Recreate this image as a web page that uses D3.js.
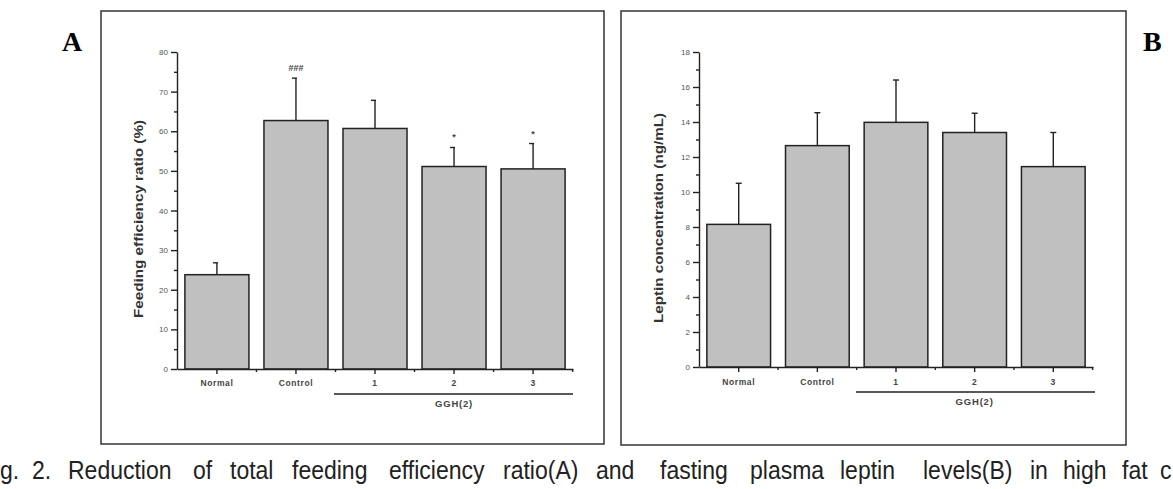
<!DOCTYPE html>
<html>
<head>
<meta charset="utf-8">
<script src="https://cdn.jsdelivr.net/npm/d3@7"></script>
<style>
  body { margin: 0; background: #fff; }
  svg { display: block; font-family: "Liberation Sans", Arial, sans-serif; }
  .axis path, .axis line { stroke: #222; stroke-width: 1.4; }
  .axis text { fill: #555; font-size: 8px; }
</style>
</head>
<body>
<svg id="fig" width="1173" height="489"></svg>
<script>
/* Fig. 2 - feeding efficiency ratio (A) and plasma leptin (B) */
const groups = ['Normal', 'Control', '1', '2', '3']
const feedMean = [23.8, 62.7, 60.7, 51.1, 50.5]
const feedErr = [3.0, 10.7, 7.1, 4.8, 6.4]
const feedSig = ['', '###', '', '*', '*']
const leptinMean = [8.15, 12.65, 13.98, 13.4, 11.45]
const leptinErr = [2.35, 1.88, 2.42, 1.1, 1.95]
const leptinSig = ['', '', '', '', '']
const feedTicks = [0, 10, 20, 30, 40, 50, 60, 70, 80]
const leptinTicks = [0, 2, 4, 6, 8, 10, 12, 14, 16, 18]
const groupName = 'GGH(2)'
// the page edge cuts the caption on both sides, so only the visible part is kept
const captionWords = ['g.', '2.', 'Reduction', 'of', 'total', 'feeding', 'efficiency', 'ratio(A)',
  'and', 'fasting', 'plasma', 'leptin', 'levels(B)', 'in', 'high', 'fat', 'c']

const svg = d3.select('#fig')

const panels = [
  { title: 'A', titleX: 62, box: [101, 11, 604, 444], ax: 177, xEnd: 573, yTop: 52, yBot: 369,
    mean: feedMean, err: feedErr, sig: feedSig, ticks: feedTicks,
    ylabel: 'Feeding efficiency ratio (%)', ylx: 140, lyc: 219, lylen: 198,
    bracket: [334, 573, 394], gy: 407, xly: 386, cap: [4, 1] },
  { title: 'B', titleX: 1143, box: [621, 11, 1126, 445], ax: 699, xEnd: 1093, yTop: 52, yBot: 367,
    mean: leptinMean, err: leptinErr, sig: leptinSig, ticks: leptinTicks,
    ylabel: 'Leptin concentration (ng/mL)', ylx: 660, lyc: 218, lylen: 210,
    bracket: [856, 1095, 392], gy: 405, xly: 385, cap: [3, 3] }
]

panels.forEach(p => {
  const [bx0, by0, bx1, by1] = p.box
  svg.append('rect')
    .attr('x', bx0).attr('y', by0)
    .attr('width', bx1 - bx0).attr('height', by1 - by0)
    .attr('fill', 'none').attr('stroke', '#333').attr('stroke-width', 1.5)

  svg.append('text')
    .attr('x', p.titleX).attr('y', 51)
    .style('font-family', '"Liberation Serif", "Times New Roman", serif')
    .style('font-weight', 'bold').style('font-size', '28px')
    .text(p.title)

  const yMax = p.ticks[p.ticks.length - 1]
  const step = p.ticks[1] - p.ticks[0]
  const y = d3.scaleLinear().domain([0, yMax]).range([p.yBot, p.yTop])
  const x = d3.scaleBand().domain(groups).range([p.ax, p.xEnd])
    .paddingInner(0.19).paddingOuter(0.1)

  // minor y ticks
  const minor = p.ticks.slice(0, -1).map(t => t + step / 2)
  svg.append('g').attr('class', 'axis')
    .attr('transform', `translate(${p.ax},0)`)
    .call(d3.axisLeft(y).tickValues(minor).tickSize(3).tickFormat(''))
    .select('.domain').remove()

  // bars
  svg.append('g').selectAll('rect')
    .data(p.mean)
    .join('rect')
    .attr('x', (d, i) => x(groups[i]))
    .attr('y', d => y(d))
    .attr('width', x.bandwidth())
    .attr('height', d => y(0) - y(d))
    .attr('fill', '#c0c0c0')
    .attr('stroke', '#222')
    .attr('stroke-width', 1.5)

  // error bars
  const eb = svg.append('g').attr('stroke', '#222').attr('stroke-width', 1.4)
  p.mean.forEach((m, i) => {
    const cx = x(groups[i]) + x.bandwidth() / 2
    eb.append('line').attr('x1', cx).attr('x2', cx)
      .attr('y1', y(m)).attr('y2', y(m + p.err[i]))
    eb.append('line').attr('x1', cx - p.cap[0]).attr('x2', cx + p.cap[1])
      .attr('y1', y(m + p.err[i])).attr('y2', y(m + p.err[i]))
    if (p.sig[i]) {
      svg.append('text')
        .attr('x', cx).attr('y', y(m + p.err[i]) - 7)
        .attr('text-anchor', 'middle')
        .style('font-size', '9px').style('font-weight', 'bold').attr('fill', '#444')
        .text(p.sig[i])
    }
  })

  // y axis
  svg.append('g').attr('class', 'axis')
    .attr('transform', `translate(${p.ax},0)`)
    .call(d3.axisLeft(y).tickValues(p.ticks).tickSize(6).tickSizeOuter(0))

  // x axis
  const xg = svg.append('g').attr('class', 'axis')
    .attr('transform', `translate(0,${p.yBot})`)
    .call(d3.axisBottom(x).tickSize(5).tickSizeOuter(0).tickFormat(''))
  const gap = x.step() - x.bandwidth()
  xg.selectAll('.minor')
    .data(groups)
    .join('line')
    .attr('class', 'minor')
    .attr('x1', d => x(d) + x.bandwidth() + gap / 2)
    .attr('x2', d => x(d) + x.bandwidth() + gap / 2)
    .attr('y1', 0).attr('y2', 3)

  svg.append('g').selectAll('text')
    .data(groups)
    .join('text')
    .attr('x', d => x(d) + x.bandwidth() / 2)
    .attr('y', p.xly)
    .attr('text-anchor', 'middle')
    .style('font-size', '8.5px').style('font-weight', 'bold')
    .style('letter-spacing', '0.6px')
    .attr('fill', '#444')
    .text(d => d)

  // bracket for GGH groups
  svg.append('line')
    .attr('x1', p.bracket[0]).attr('x2', p.bracket[1])
    .attr('y1', p.bracket[2]).attr('y2', p.bracket[2])
    .attr('stroke', '#222').attr('stroke-width', 1.5)
  svg.append('text')
    .attr('x', (x('1') + x('3') + x.bandwidth()) / 2)
    .attr('y', p.gy)
    .attr('text-anchor', 'middle')
    .style('font-size', '9.5px').style('font-weight', 'bold')
    .style('letter-spacing', '0.8px')
    .attr('fill', '#444')
    .text(groupName)

  svg.append('text')
    .attr('transform', `translate(${p.ylx},${p.lyc}) rotate(-90)`)
    .attr('text-anchor', 'middle')
    .attr('dominant-baseline', 'middle')
    .attr('textLength', p.lylen)
    .attr('lengthAdjust', 'spacingAndGlyphs')
    .style('font-size', '12px').style('font-weight', 'bold')
    .attr('fill', '#333')
    .text(p.ylabel)
})

// caption, justified: each word starts where it does on the page, glyphs condensed a little
const captionX = [0, 32, 68, 193, 230, 292, 389, 503, 596, 660, 750, 840, 923, 1030, 1063, 1122, 1160]
svg.append('g').selectAll('text')
  .data(captionWords)
  .join('text')
  .attr('x', (d, i) => captionX[i])
  .attr('y', 479)
  .style('font-size', '25px')
  .attr('fill', '#222')
  .text(d => d)
  .each(function () {
    const w = this.getComputedTextLength()
    d3.select(this).attr('textLength', w * 0.92).attr('lengthAdjust', 'spacingAndGlyphs')
  })
</script>
</body>
</html>
